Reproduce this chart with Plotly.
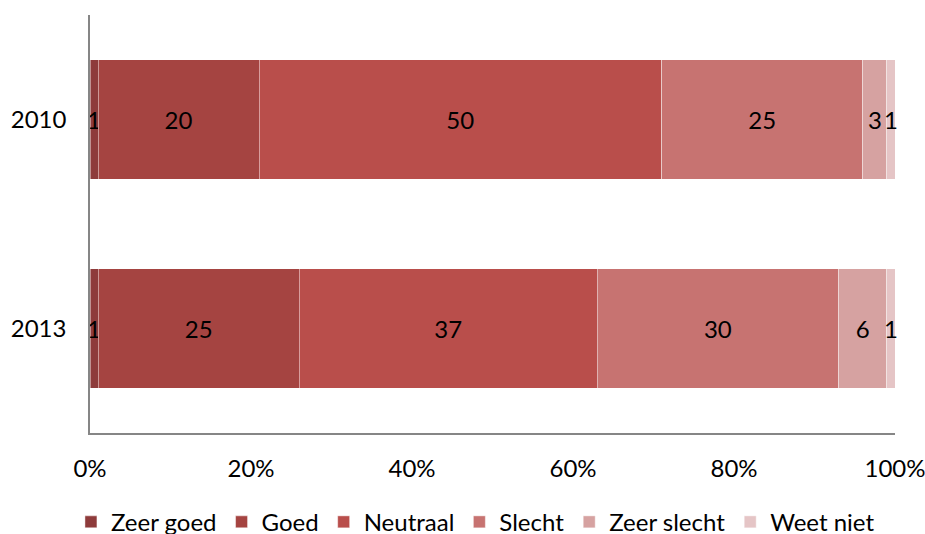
import plotly.graph_objects as go

years = ["2010", "2013"]
series = ["Zeer goed", "Goed", "Neutraal", "Slecht", "Zeer slecht", "Weet niet"]
values = {
    "Zeer goed": [1, 1],
    "Goed": [20, 25],
    "Neutraal": [50, 37],
    "Slecht": [25, 30],
    "Zeer slecht": [3, 6],
    "Weet niet": [1, 1],
}
colors = ["#8E3B3B", "#A54441", "#B94E4B", "#C77371", "#D6A2A1", "#E5C5C6"]
x_ticks = [0, 20, 40, 60, 80, 100]
x_ticklabels = ["0%", "20%", "40%", "60%", "80%", "100%"]

FONT = "Lato, Calibri, Carlito, sans-serif"
FS = 24

fig = go.Figure()
for name, col in zip(series, colors):
    fig.add_trace(go.Bar(
        y=years, x=values[name], name=name, orientation="h",
        marker=dict(color=col, line=dict(color="rgba(255,255,255,0.45)", width=1)),
        text=[str(v) for v in values[name]],
        textposition="inside", insidetextanchor="middle",
        constraintext="none",
        textfont=dict(color="black", size=FS, family=FONT),
        cliponaxis=False,
        hoverinfo="x+name",
    ))

fig.update_layout(
    barmode="stack",
    bargap=0.43,
    width=925, height=534,
    margin=dict(l=90, r=30, t=15, b=101, autoexpand=False),
    plot_bgcolor="white", paper_bgcolor="white",
    font=dict(family=FONT, size=FS, color="black"),
    showlegend=True,
    legend=dict(orientation="h", x=0.514, xanchor="center", xref="container",
                y=0.022, yanchor="middle", yref="container",
                font=dict(size=FS, family=FONT), traceorder="normal",
                itemwidth=30, bgcolor="rgba(0,0,0,0)"),
)
fig.update_xaxes(range=[0, 100], tickvals=x_ticks, ticktext=x_ticklabels,
                 showgrid=False, zeroline=False, showline=True,
                 linecolor="#868686", linewidth=1.5, ticks="",
                 automargin=False, ticklabeloverflow="allow",
                 ticklabelstandoff=13, tickfont=dict(size=FS, family=FONT))
fig.update_yaxes(categoryorder="array", categoryarray=years, autorange="reversed",
                 showgrid=False, zeroline=False, showline=True,
                 linecolor="#868686", linewidth=1.5, ticks="",
                 automargin=False, ticklabeloverflow="allow",
                 ticklabelstandoff=17, tickfont=dict(size=FS, family=FONT))

fig.write_html("out.html", config={"displayModeBar": False},
               post_script="document.body.style.margin='0';document.body.style.overflow='hidden';")
